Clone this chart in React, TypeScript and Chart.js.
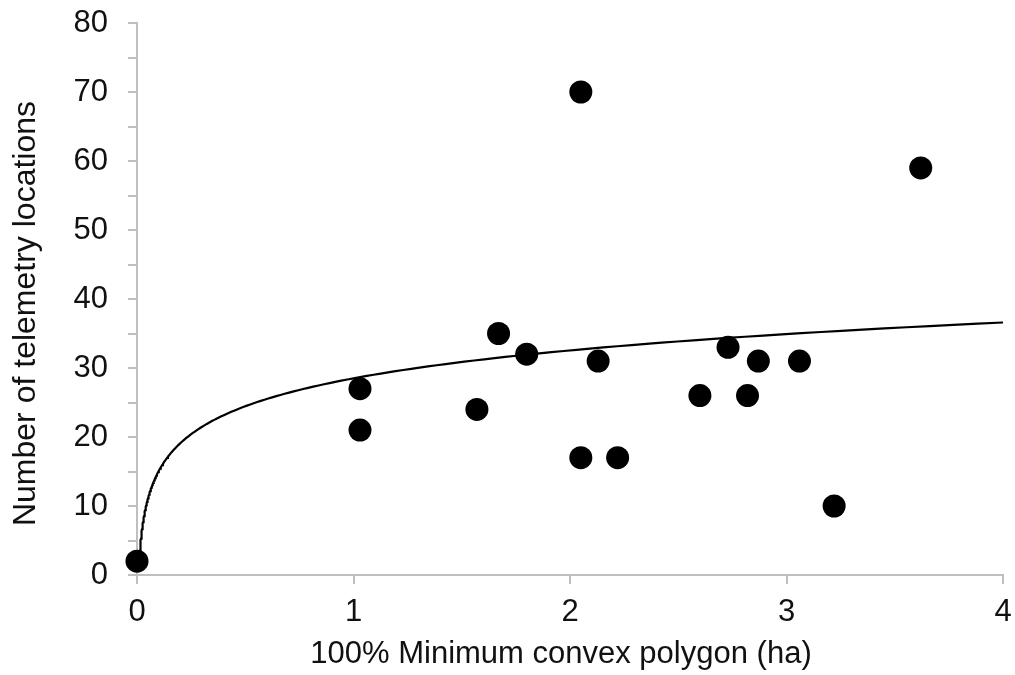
import React, { useEffect, useRef } from "react";
import { Chart, registerables } from "chart.js";

Chart.register(...registerables);

// Observed data: 100% MCP (ha) vs number of telemetry locations
const mcpHa: number[] = [0, 1.03, 1.03, 1.57, 1.67, 1.8, 2.05, 2.05, 2.13, 2.22, 2.6, 2.73, 2.82, 2.87, 3.06, 3.22, 3.62];
const locations: number[] = [2, 27, 21, 24, 35, 32, 70, 17, 31, 17, 26, 33, 26, 31, 31, 10, 59];

// Logarithmic trendline y = A*ln(x) + B (coefficients)
const trendA = 5.84;
const trendB = 28.5;
const trendXStart = 0.011;
const trendXEnd = 4;
const trendSamples = 200;

const xTicks: number[] = [0, 1, 2, 3, 4];
const yTicks: number[] = [0, 10, 20, 30, 40, 50, 60, 70, 80];

const xTitle = "100% Minimum convex polygon (ha)";
const yTitle = "Number of telemetry locations";

const FAMILY = "'Liberation Sans', Arial, sans-serif";
const TEXT_COLOR = "#111111";

const titlePlugin = {
  id: "axisTitles",
  afterDraw(chart: any) {
    const ctx = chart.ctx as CanvasRenderingContext2D;
    ctx.save();
    ctx.fillStyle = TEXT_COLOR;
    // x title
    ctx.font = `31px ${FAMILY}`;
    ctx.textAlign = "center";
    ctx.textBaseline = "alphabetic";
    ctx.fillText(xTitle, 561, 663);
    // y title (rotated)
    ctx.font = `32px ${FAMILY}`;
    ctx.translate(35, 313.5);
    ctx.rotate(-Math.PI / 2);
    ctx.fillText(yTitle, 0, 0);
    ctx.restore();
  },
};

export default function App() {
  const ref = useRef<HTMLCanvasElement | null>(null);

  useEffect(() => {
    if (!ref.current) return;
    const points = mcpHa.map((x, i) => ({ x, y: locations[i] }));
    const trend: { x: number; y: number }[] = [];
    const l0 = Math.log(trendXStart);
    const l1 = Math.log(trendXEnd);
    for (let i = 0; i <= trendSamples; i++) {
      const x = Math.exp(l0 + ((l1 - l0) * i) / trendSamples);
      trend.push({ x, y: trendA * Math.log(x) + trendB });
    }
    const axisColor = "#bfbfbf";
    const font = { family: FAMILY, size: 31 };

    const chart = new Chart(ref.current, {
      type: "scatter",
      plugins: [titlePlugin],
      data: {
        datasets: [
          {
            label: "Locations",
            data: points,
            backgroundColor: "#000000",
            borderColor: "#000000",
            pointRadius: 11.5,
            pointHoverRadius: 11.5,
            borderWidth: 0,
            clip: false,
          },
          {
            label: "Trend",
            data: trend,
            showLine: true,
            pointRadius: 0,
            borderColor: "#000000",
            borderWidth: 2.2,
            tension: 0,
            fill: false,
          },
        ],
      },
      options: {
        responsive: false,
        animation: false,
        maintainAspectRatio: false,
        layout: { padding: { left: 0, right: 12, top: 23, bottom: 0 } },
        plugins: { legend: { display: false }, tooltip: { enabled: false } },
        scales: {
          x: {
            type: "linear",
            min: 0,
            max: 4,
            afterBuildTicks: (scale: any) => {
              scale.ticks = xTicks.map((v) => ({ value: v }));
            },
            afterFit: (scale: any) => {
              scale.height = 100;
              scale.paddingLeft = 0;
              scale.paddingRight = 0;
              scale.paddingTop = 0;
              scale.paddingBottom = 0;
            },
            ticks: {
              color: TEXT_COLOR,
              font,
              padding: 10,
              maxRotation: 0,
              callback: (v: any) => String(v),
            },
            grid: {
              drawOnChartArea: false,
              color: axisColor,
              lineWidth: 2,
              tickLength: 9,
            },
            border: { color: axisColor, width: 2 },
            title: { display: false },
          },
          y: {
            type: "linear",
            min: 0,
            max: 80,
            afterBuildTicks: (scale: any) => {
              const t: { value: number }[] = [];
              for (let v = 0; v <= 80; v += 5) t.push({ value: v });
              scale.ticks = t;
            },
            afterFit: (scale: any) => {
              scale.width = 137;
              scale.paddingLeft = 0;
              scale.paddingRight = 0;
              scale.paddingTop = 0;
              scale.paddingBottom = 0;
            },
            ticks: {
              color: TEXT_COLOR,
              font,
              padding: 20,
              autoSkip: false,
              callback: (v: any) => (yTicks.includes(Number(v)) ? String(v) : ""),
            },
            grid: {
              drawOnChartArea: false,
              color: axisColor,
              lineWidth: 2,
              tickLength: 9,
            },
            border: { color: axisColor, width: 2 },
            title: { display: false },
          },
        },
      },
    });
    return () => chart.destroy();
  }, []);

  return (
    <div style={{ position: "fixed", left: 0, top: 0, width: 1015, height: 675, background: "#fff" }}>
      <canvas ref={ref} width={1015} height={675} style={{ width: 1015, height: 675 }} />
    </div>
  );
}
